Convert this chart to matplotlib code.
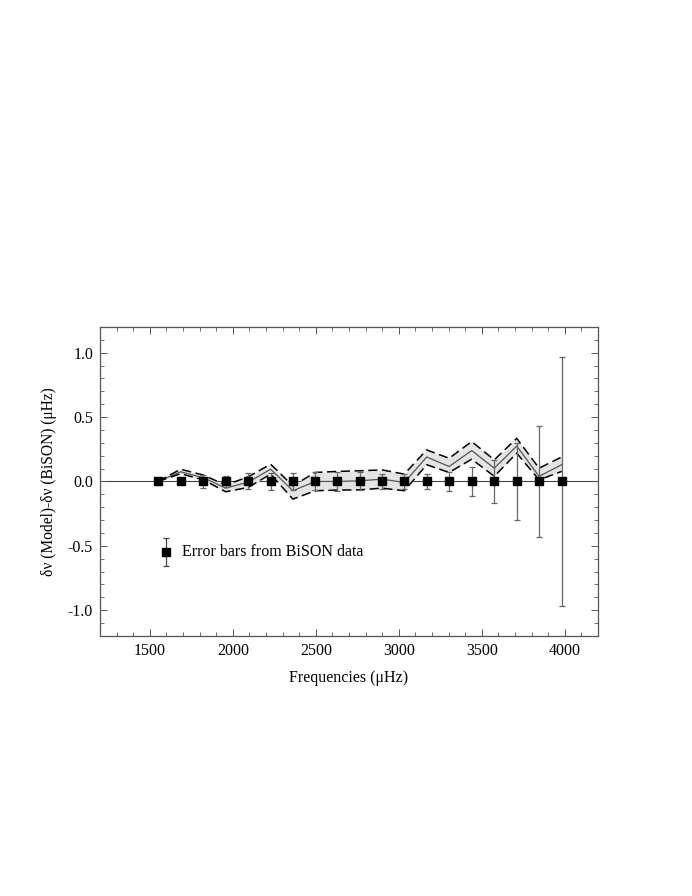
import numpy as np
import matplotlib
matplotlib.use("Agg")
import matplotlib.pyplot as plt
from matplotlib.ticker import MultipleLocator

plt.rcParams["font.family"] = ["Liberation Serif", "DejaVu Serif"]

# l=0 mode frequencies (uHz)
freq = [1548, 1686, 1822, 1957, 2093, 2228, 2362, 2496, 2629, 2764,
        2899, 3033, 3168, 3303, 3439, 3575, 3710, 3845, 3981]

# BiSON error bars (half-widths, uHz)
bison_err = [0.03, 0.01, 0.05, 0.045, 0.062, 0.065, 0.065, 0.07, 0.076, 0.07,
             0.06, 0.06, 0.056, 0.076, 0.115, 0.165, 0.30, 0.43, 0.97]

# model - BiSON differences: centre, upper and lower envelope
diff_mid = [0.0, 0.075, 0.03, -0.052, -0.005, 0.095, -0.072, 0.0, 0.0, 0.005,
            0.018, -0.008, 0.19, 0.116, 0.24, 0.103, 0.275, 0.04, 0.13]
diff_up = [0.0, 0.095, 0.05, -0.028, 0.036, 0.134, -0.034, 0.07, 0.078, 0.083,
           0.09, 0.057, 0.245, 0.18, 0.31, 0.168, 0.335, 0.103, 0.19]
diff_lo = [0.0, 0.06, 0.013, -0.08, -0.046, 0.057, -0.137, -0.072, -0.067, -0.065,
           -0.052, -0.072, 0.13, 0.07, 0.173, 0.04, 0.22, 0.013, 0.078]

legend_x = 1600
legend_y = -0.55
legend_err = 0.11

fig = plt.figure(figsize=(6.92, 8.96), dpi=100)
ax = fig.add_axes([0.1445, 0.2902, 0.7197, 0.3449])

ax.axhline(0, color="#444444", lw=0.8, zorder=1)

ax.fill_between(freq, diff_lo, diff_up, color="#e4e4e4", lw=0, zorder=2)
ax.plot(freq, diff_mid, color="#555555", lw=0.9, zorder=3)
ax.plot(freq, diff_up, color="black", lw=1.1, ls=(0, (6, 3)), zorder=3)
ax.plot(freq, diff_lo, color="black", lw=1.1, ls=(0, (6, 3)), zorder=3)

zeros = np.zeros(len(freq))
ax.errorbar(freq, zeros, yerr=bison_err, fmt="none", ecolor="#666666",
            elinewidth=0.9, capsize=2.5, capthick=0.9, zorder=4)
ax.plot(freq, zeros, "s", color="black", ms=6.3, zorder=5)

# legend-like annotation
ax.errorbar([legend_x], [legend_y], yerr=[legend_err], fmt="s", color="black",
            ms=6.3, ecolor="#444444", elinewidth=0.9, capsize=2.5, capthick=0.9)
ax.text(legend_x + 92, legend_y, "Error bars from BiSON data", fontsize=11.5,
        va="center", ha="left")

ax.set_xlim(1200, 4200)
ax.set_ylim(-1.2, 1.2)
ax.xaxis.set_major_locator(MultipleLocator(500))
ax.xaxis.set_minor_locator(MultipleLocator(100))
ax.yaxis.set_major_locator(MultipleLocator(0.5))
ax.yaxis.set_minor_locator(MultipleLocator(0.1))
ax.yaxis.set_major_formatter(plt.FuncFormatter(lambda v, p: f"{v:.1f}"))

ax.tick_params(which="both", direction="in", top=True, right=True,
               color="#555555", labelsize=11.5)
ax.tick_params(which="major", length=5, width=0.7, pad=5)
ax.tick_params(which="minor", length=3, width=0.6)
for s in ax.spines.values():
    s.set_color("#555555")
    s.set_linewidth(0.9)

ax.set_xlabel("Frequencies (\u03bcHz)", fontsize=11.5, labelpad=8)
ax.set_ylabel("\u03b4\u03bd (Model)-\u03b4\u03bd (BiSON) (\u03bcHz)", fontsize=11.2,
              labelpad=8)

fig.savefig("out.png", dpi=100)
